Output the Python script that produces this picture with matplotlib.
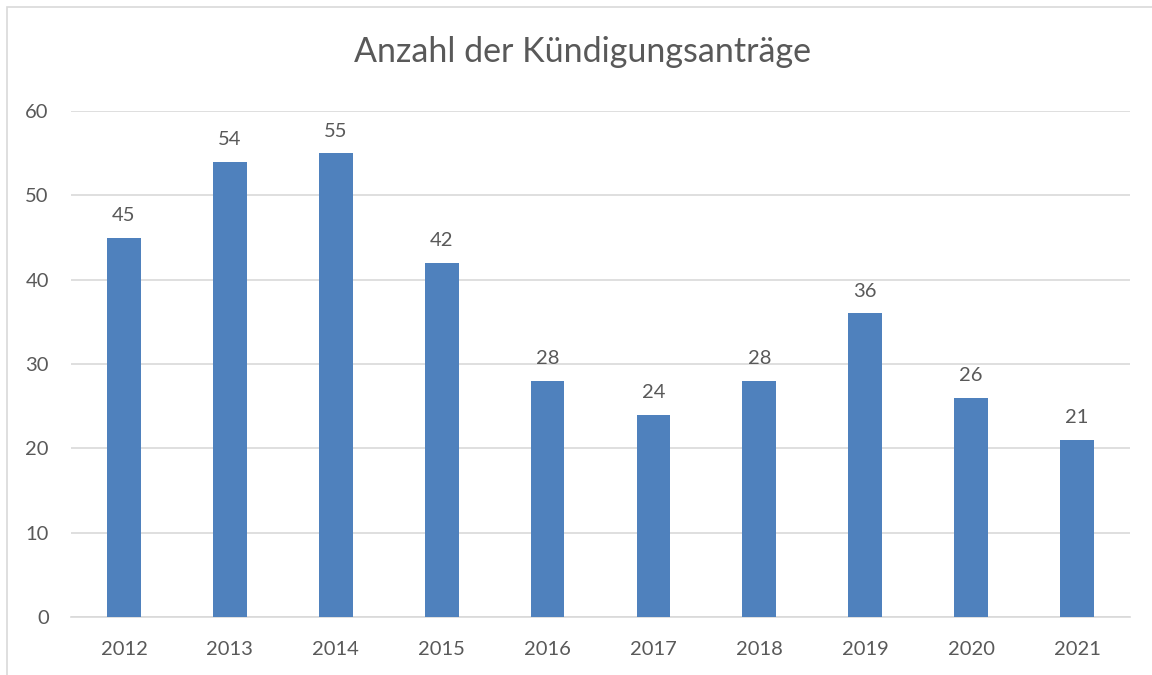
import matplotlib.pyplot as plt
import matplotlib.patches as patches
import numpy as np

# Daten
jahre = ['2012', '2013', '2014', '2015', '2016', '2017', '2018', '2019', '2020', '2021']
antraege = [45, 54, 55, 42, 28, 24, 28, 36, 26, 21]

plt.rcParams['font.family'] = ['Lato', 'DejaVu Sans']
text_color = '#595959'
bar_color = '#4F81BD'
grid_color = '#D9D9D9'

fig = plt.figure(figsize=(11.52, 6.75), dpi=100)
ax = fig.add_axes([71 / 1152, 1 - 617 / 675, 1059 / 1152, 506 / 675])

# Rahmen des Diagrammbereichs
rahmen = patches.Rectangle((7 / 1152, -0.1), 1.2, 1.1 - 7 / 675,
                           transform=fig.transFigure, fill=False,
                           edgecolor='#D9D9D9', linewidth=1.2, zorder=0)
fig.patches.append(rahmen)

x = np.arange(len(jahre))
bars = ax.bar(x, antraege, width=0.32, color=bar_color, zorder=3)

for bar, wert in zip(bars, antraege):
    ax.text(bar.get_x() + bar.get_width() / 2, wert + 1.6, str(wert),
            ha='center', va='bottom', fontsize=14.5, color=text_color)

ax.set_xlim(-0.5, len(jahre) - 0.5)
ax.set_ylim(0, 60)
ax.set_yticks(range(0, 61, 10))
ax.set_xticks(x)
ax.set_xticklabels(jahre)
ax.tick_params(axis='both', length=0, labelsize=14.5, colors=text_color)
ax.tick_params(axis='x', pad=17)
ax.tick_params(axis='y', pad=16)
ax.yaxis.grid(True, color=grid_color, linewidth=1.2, zorder=0)
for s in ['top', 'right', 'left']:
    ax.spines[s].set_visible(False)
ax.spines['bottom'].set_color(grid_color)
ax.spines['bottom'].set_linewidth(1.2)

fig.text(583 / 1152, 1 - 52 / 675, 'Anzahl der Kündigungsanträge',
         ha='center', va='center', fontsize=24.5, color=text_color)

fig.savefig('out.png', dpi=100)
